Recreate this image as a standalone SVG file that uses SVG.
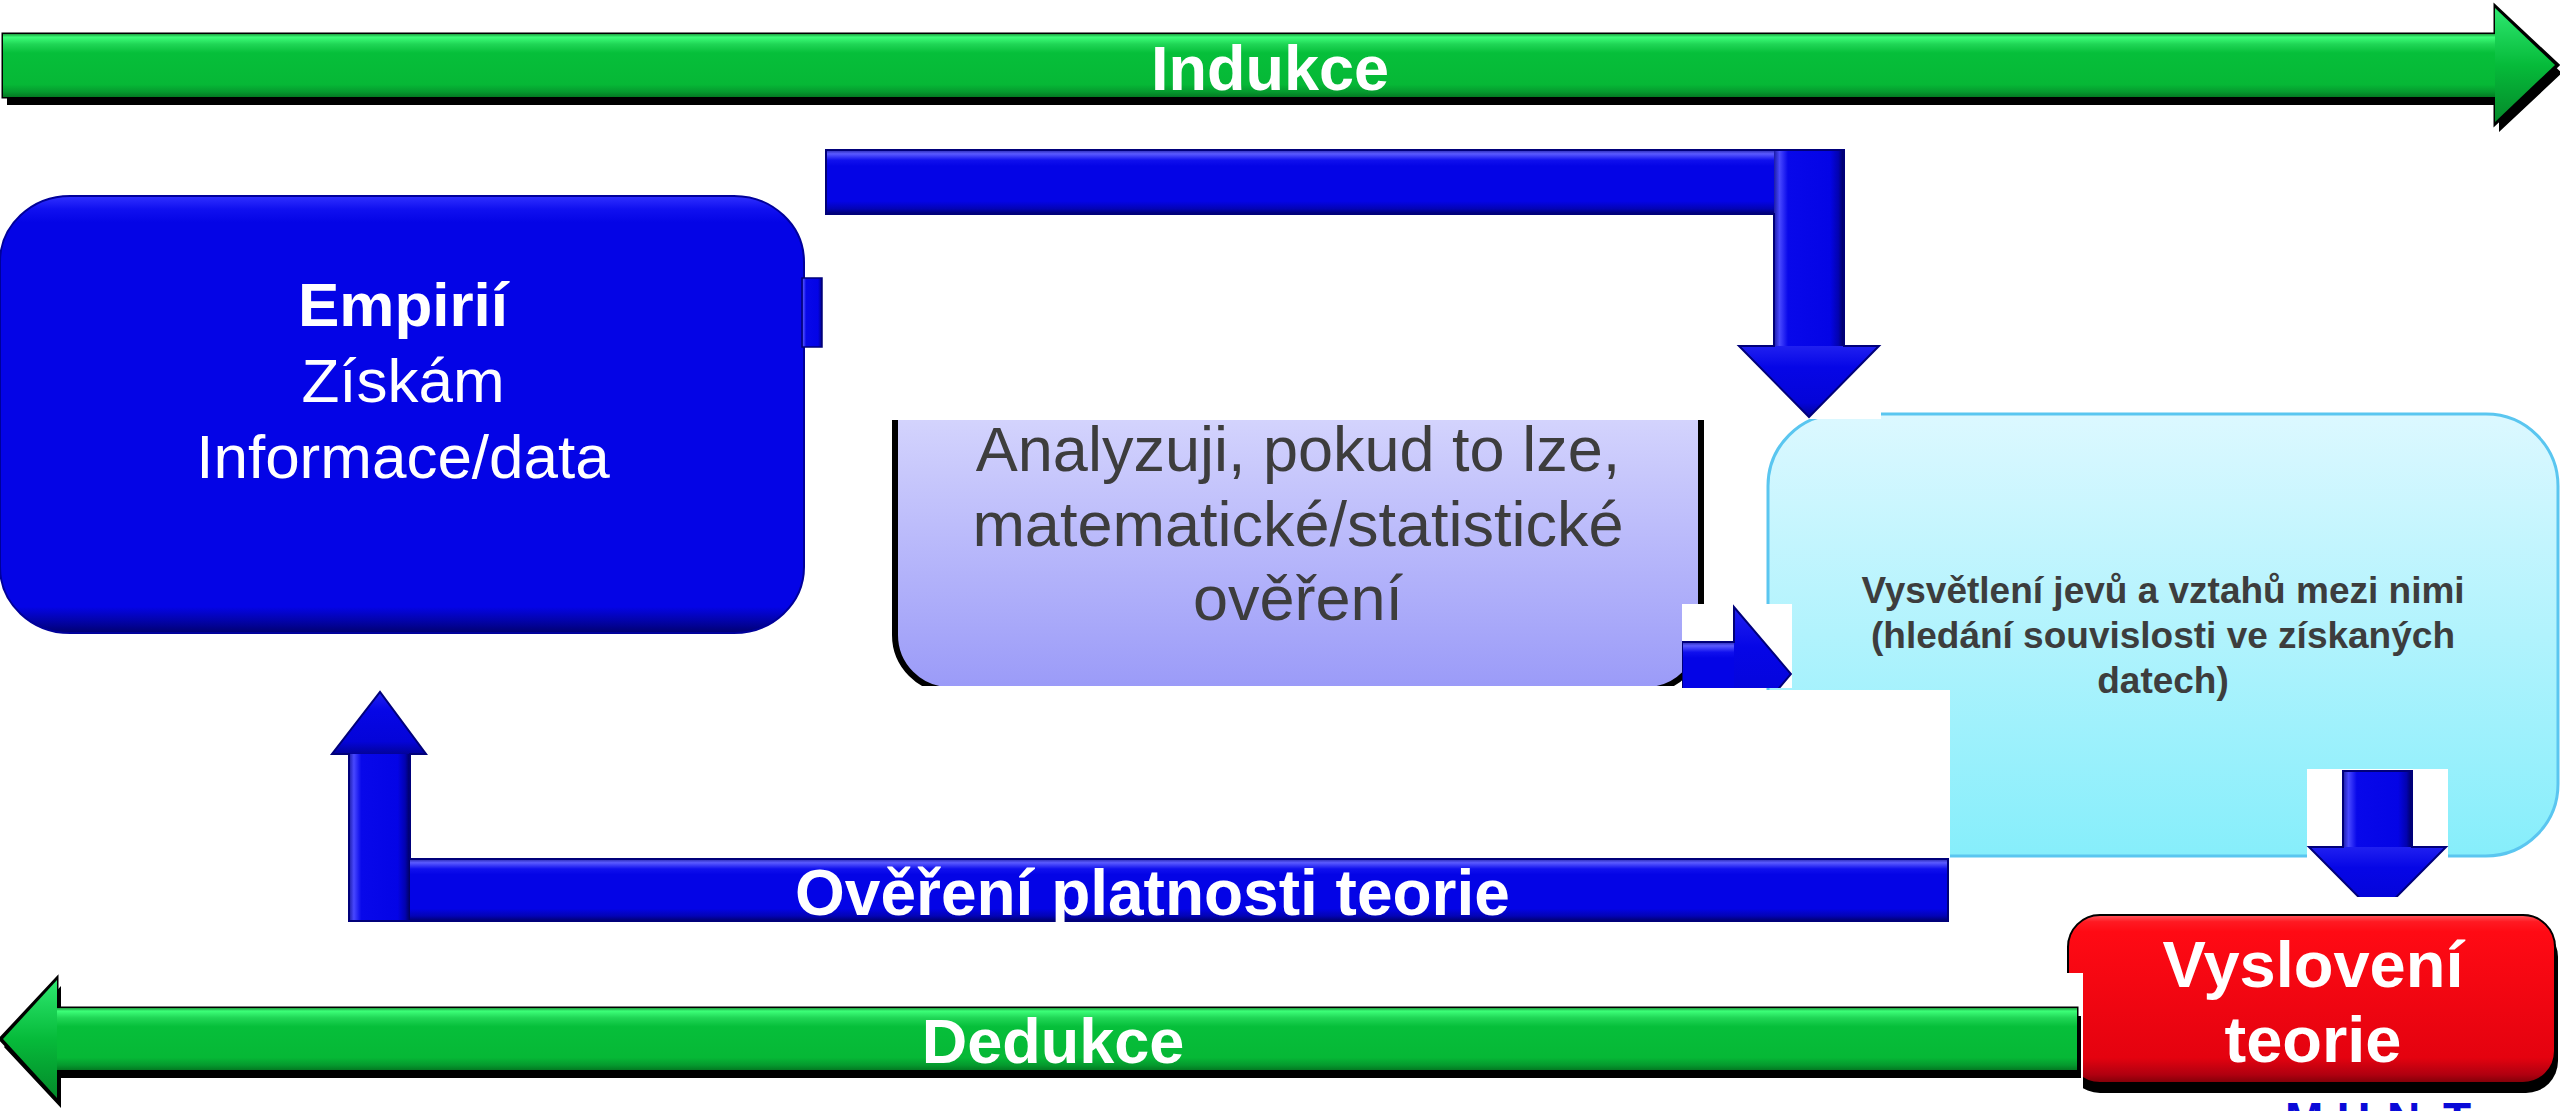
<svg xmlns="http://www.w3.org/2000/svg" width="2560" height="1111" viewBox="0 0 2560 1111">
<defs>
<style>
.t{font-family:"Liberation Sans",Arial,sans-serif}
.wb{fill:#fff;font-weight:bold}
.w{fill:#fff}
.g{fill:#3d3d3d}
.mask{fill:#fff}
.head{fill:url(#bhead)}
.hb{fill:url(#hbar)}
.vb{fill:url(#vbar)}
.edge{fill:none;stroke:#00007a;stroke-width:2;stroke-linejoin:miter}
</style>
<linearGradient id="hbar" x1="0" y1="0" x2="0" y2="1">
<stop offset="0" stop-color="#2828b0"/><stop offset="0.06" stop-color="#5a5aff"/><stop offset="0.16" stop-color="#1010ee"/><stop offset="0.25" stop-color="#0404e6"/><stop offset="0.8" stop-color="#0404e6"/><stop offset="0.92" stop-color="#0303b4"/><stop offset="1" stop-color="#00006e"/>
</linearGradient>
<linearGradient id="vbar" x1="0" y1="0" x2="1" y2="0">
<stop offset="0" stop-color="#1c1ca8"/><stop offset="0.08" stop-color="#4848ff"/><stop offset="0.2" stop-color="#0808ea"/><stop offset="0.8" stop-color="#0404e6"/><stop offset="0.92" stop-color="#0202b0"/><stop offset="1" stop-color="#00005e"/>
</linearGradient>
<linearGradient id="bhead" x1="0" y1="0" x2="0" y2="1">
<stop offset="0" stop-color="#2020f0"/><stop offset="0.3" stop-color="#0606e6"/><stop offset="0.8" stop-color="#0404d8"/><stop offset="1" stop-color="#02029a"/>
</linearGradient>
<linearGradient id="gbar" x1="0" y1="0" x2="0" y2="1">
<stop offset="0" stop-color="#1f9f40"/><stop offset="0.05" stop-color="#3cff78"/><stop offset="0.16" stop-color="#20d656"/><stop offset="0.3" stop-color="#06bf3a"/><stop offset="0.8" stop-color="#06b836"/><stop offset="0.92" stop-color="#059a2e"/><stop offset="1" stop-color="#037a22"/>
</linearGradient>
<linearGradient id="ghead" x1="0" y1="0" x2="0" y2="1">
<stop offset="0" stop-color="#2ee870"/><stop offset="0.5" stop-color="#06bb3a"/><stop offset="1" stop-color="#048a2a"/>
</linearGradient>
<linearGradient id="eb" x1="0" y1="0" x2="0" y2="1">
<stop offset="0" stop-color="#3030ff"/><stop offset="0.03" stop-color="#1010f0"/><stop offset="0.06" stop-color="#0404e6"/><stop offset="0.94" stop-color="#0404e6"/><stop offset="0.98" stop-color="#02029a"/><stop offset="1" stop-color="#000070"/>
</linearGradient>
<linearGradient id="ab" gradientUnits="userSpaceOnUse" x1="0" y1="420" x2="0" y2="686">
<stop offset="0" stop-color="#d3d3fd"/><stop offset="1" stop-color="#9b9bf8"/>
</linearGradient>
<linearGradient id="cb" x1="0" y1="0" x2="0" y2="1">
<stop offset="0" stop-color="#dcf8ff"/><stop offset="1" stop-color="#86eefb"/>
</linearGradient>
<linearGradient id="rb" x1="0" y1="0" x2="0" y2="1">
<stop offset="0" stop-color="#ff5a60"/><stop offset="0.04" stop-color="#ff1a22"/><stop offset="0.1" stop-color="#ff0a14"/><stop offset="0.85" stop-color="#e4020f"/><stop offset="0.95" stop-color="#b00010"/><stop offset="1" stop-color="#800008"/>
</linearGradient>
<clipPath id="clipA"><rect x="880" y="420" width="835" height="266"/></clipPath>
<clipPath id="clipS"><rect x="1682" y="604" width="110" height="84"/></clipPath>
<clipPath id="clipD"><rect x="2300" y="760" width="160" height="137"/></clipPath>
</defs>
<rect width="2560" height="1111" fill="#fff"/>

<g id="induction">
<path d="M3 34 H2495 V6 L2558 65 L2495 124 V97 H3 Z" fill="#000" transform="translate(4,8)"/>
<path d="M3 34 H2495 V6 L2558 65 L2495 124 V97 H3 Z" fill="#000" stroke="#000" stroke-width="3"/>
<rect x="3" y="34" width="2494" height="63" fill="url(#gbar)"/>
<polygon points="2495,8 2555,65 2495,122" fill="url(#ghead)"/>
<text class="t wb" x="1270" y="90" font-size="63" text-anchor="middle">Indukce</text>
</g>

<g id="empirie">
<rect x="0" y="196" width="804" height="437" rx="70" ry="66" fill="url(#eb)" stroke="#00009a" stroke-width="2"/>
<text class="t wb" x="403" y="326" font-size="62" text-anchor="middle">Empirií</text>
<text class="t w" x="403" y="402" font-size="62" text-anchor="middle">Získám</text>
<text class="t w" x="403" y="478" font-size="62" text-anchor="middle">Informace/data</text>
<rect class="vb" x="802" y="278" width="20" height="69" stroke="#00007a" stroke-width="1.5"/>
</g>

<g id="analyza">
<g clip-path="url(#clipA)">
<rect x="895" y="340" width="806" height="350" rx="55" fill="url(#ab)" stroke="#000" stroke-width="6"/>
</g>
<text class="t g" x="1298" y="471" font-size="63" text-anchor="middle">Analyzuji, pokud to lze,</text>
<text class="t g" x="1298" y="546" font-size="63" text-anchor="middle">matematické/statistické</text>
<text class="t g" x="1298" y="620" font-size="63" text-anchor="middle">ověření</text>
</g>

<g id="vysvetleni">
<rect x="1768" y="414" width="790" height="442" rx="72" fill="url(#cb)" stroke="#5ac6f0" stroke-width="3"/>
<rect class="mask" x="1740" y="330" width="141" height="89"/>
<rect class="mask" x="1682" y="604" width="110" height="84"/>
<rect class="mask" x="1765" y="690" width="185" height="170"/>
<rect class="mask" x="2307" y="769" width="141" height="90"/>
<text class="t g" x="2163" y="603" font-size="37" font-weight="bold" text-anchor="middle">Vysvětlení jevů a vztahů mezi nimi</text>
<text class="t g" x="2163" y="648" font-size="37" font-weight="bold" text-anchor="middle">(hledání souvislosti ve získaných</text>
<text class="t g" x="2163" y="693" font-size="37" font-weight="bold" text-anchor="middle">datech)</text>
</g>

<g id="connectors">
<g id="c-empirie-vysvetleni">
<rect class="hb" x="826" y="150" width="1000" height="64"/>
<rect class="vb" x="1774" y="150" width="70" height="197"/>
<polygon class="head" points="1739,346 1879,346 1809,417"/>
<path class="edge" d="M826 150 H1844 V346 H1879 L1809 417 L1739 346 H1774 V214 H826 Z"/>
</g>
<g id="c-analyza-vysvetleni" clip-path="url(#clipS)">
<rect class="hb" x="1682" y="642" width="54" height="64"/>
<polygon class="head" points="1734,607 1791,674 1734,741"/>
<path class="edge" d="M1682 642 H1734 V607 L1791 674 L1734 741 V706 H1682 Z"/>
</g>
<g id="c-vysvetleni-teorie" clip-path="url(#clipD)">
<rect class="vb" x="2343" y="771" width="69" height="77"/>
<polygon class="head" points="2309,847 2446,847 2377.5,916"/>
<path class="edge" d="M2343 771 H2412 V847 H2446 L2377.5 916 L2309 847 H2343 Z"/>
</g>
<g id="c-overeni">
<rect class="hb" x="400" y="859" width="1548" height="62"/>
<rect class="vb" x="349" y="753" width="61" height="168"/>
<polygon class="head" points="332,754 426,754 380,692"/>
<path class="edge" d="M349 921 H1948 V859 H410 V754 H426 L380 692 L332 754 H349 Z"/>
<text class="t wb" x="795" y="915" font-size="64">Ověření platnosti teorie</text>
</g>
</g>

<g id="teorie">
<rect x="2068" y="925" width="490" height="168" rx="32" fill="#000"/>
<rect x="2068" y="915" width="487" height="168" rx="32" fill="url(#rb)" stroke="#000" stroke-width="2"/>
<rect class="mask" x="2040" y="973" width="43" height="140"/>
<text class="t wb" x="2313" y="987" font-size="65" text-anchor="middle">Vyslovení</text>
<text class="t wb" x="2313" y="1062" font-size="65" text-anchor="middle">teorie</text>
</g>

<g id="deduction">
<path d="M2077 1008 H57 V978 L0 1039 L57 1100 V1070 H2077 Z" fill="#000" transform="translate(4,8)"/>
<path d="M2077 1008 H57 V978 L0 1039 L57 1100 V1070 H2077 Z" fill="#000" stroke="#000" stroke-width="3"/>
<rect x="57" y="1008" width="2020" height="62" fill="url(#gbar)"/>
<polygon points="57,980 3,1039 57,1098" fill="url(#ghead)"/>
<text class="t wb" x="1053" y="1063" font-size="63" text-anchor="middle">Dedukce</text>
</g>

<g id="footer">
<text class="t" x="2285 2337 2387 2443" y="1135" font-size="46" font-weight="bold" fill="#0a0ad8">MUNT</text>
</g>
</svg>
